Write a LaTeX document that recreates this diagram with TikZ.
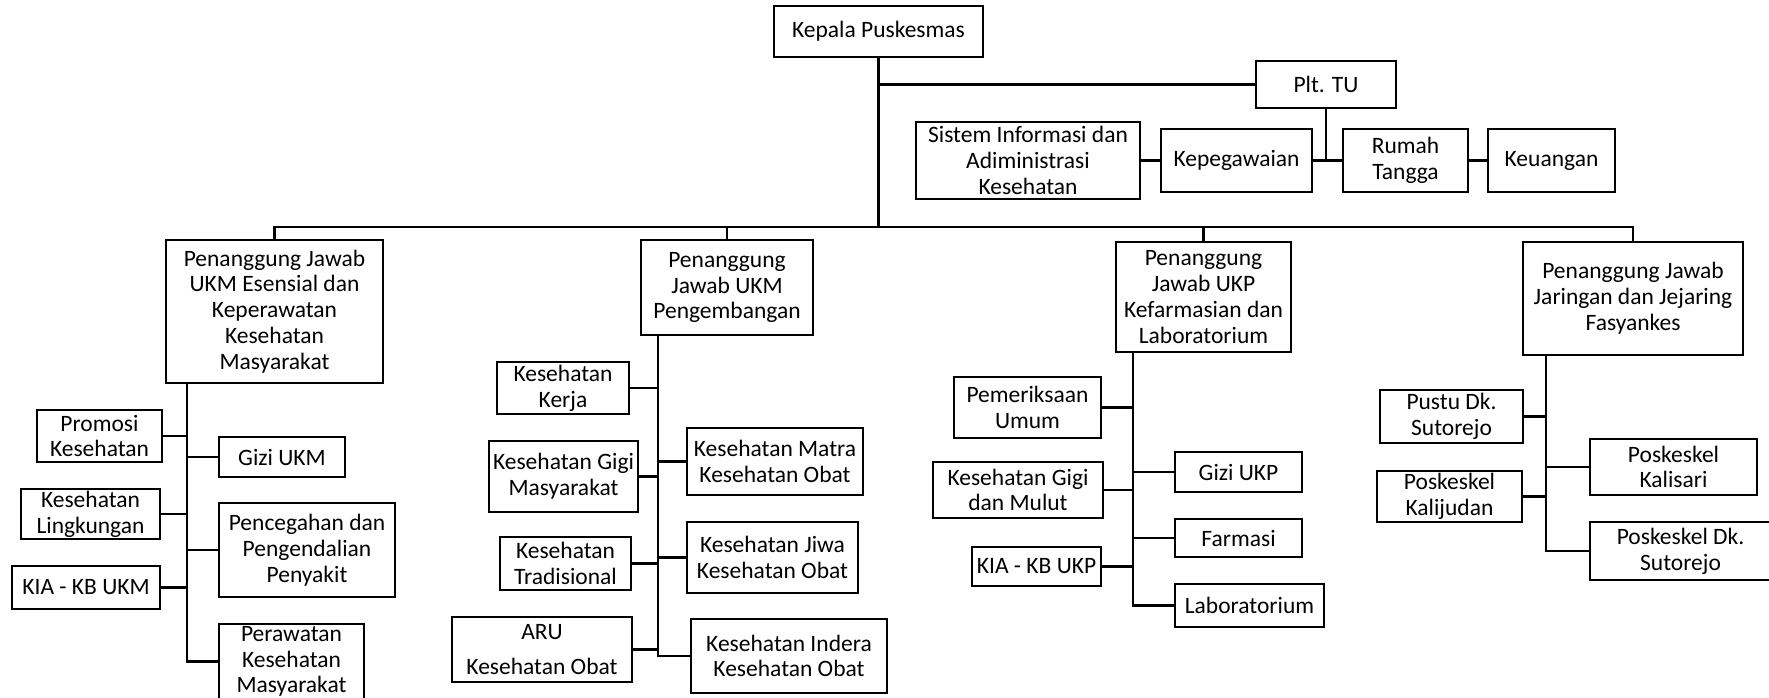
\documentclass[tikz,border=0pt]{standalone}
\usepackage{fontspec}
\setmainfont{Carlito}
\tikzset{
  box/.style={draw=black, line width=2.6pt, fill=white, align=center, inner sep=0pt,
    font=\fontsize{23.5}{25.8}\selectfont},
  conn/.style={draw=black, line width=2.4pt},
}
\newcommand{\bx}[6]{\node[box,minimum width={#4-#2},minimum height={#5-#3}] (#1) at ({(#2+#4)/2},{(#3+#5)/2}) {#6};}
\begin{document}
\begin{tikzpicture}[x=1pt,y=-1pt]
\useasboundingbox[fill=white] (0,0) rectangle (1769,697);
% top
\bx{kepala}{774}{6}{983}{57}{Kepala Puskesmas}
\bx{pltu}{1256}{61}{1396}{108}{Plt. TU}
\bx{sik}{916}{122}{1140}{199}{Sistem Informasi dan\\Adiministrasi\\Kesehatan}
\bx{kepeg}{1161}{129}{1312}{192}{Kepegawaian}
\bx{rt}{1343}{129}{1468}{192}{Rumah\\Tangga}
\bx{keu}{1488}{129}{1615}{192}{Keuangan}
% heads
\bx{h1}{166}{240}{383}{383}{Penanggung Jawab\\UKM Esensial dan\\Keperawatan\\Kesehatan\\Masyarakat}
\bx{h2}{641}{240}{813}{335}{Penanggung\\Jawab UKM\\Pengembangan}
\bx{h3}{1116}{242}{1291}{352}{Penanggung\\Jawab UKP\\Kefarmasian dan\\Laboratorium}
\bx{h4}{1523}{242}{1743}{355}{Penanggung Jawab\\Jaringan dan Jejaring\\Fasyankes}
% head 1 children
\bx{promosi}{37}{410}{162}{462}{Promosi\\Kesehatan}
\bx{gizi1}{219}{437}{345}{477}{Gizi UKM}
\bx{kesling}{21}{489}{160}{539}{Kesehatan\\Lingkungan}
\bx{ptp}{219}{503}{395}{597}{Pencegahan dan\\Pengendalian\\Penyakit}
\bx{kiaa}{12}{566}{160}{609}{KIA - KB UKM}
\bx{perawatan}{219}{624}{364}{699}{Perawatan\\Kesehatan\\Masyarakat}
% head 2 children
\bx{kerja}{497}{362}{629}{414}{Kesehatan\\Kerja}
\bx{gigim}{489}{441}{638}{512}{Kesehatan Gigi\\Masyarakat}
\bx{trad}{500}{537}{631}{590}{Kesehatan\\Tradisional}
\bx{aru}{452}{617}{632}{682}{ARU\\[10pt]Kesehatan Obat}
\bx{matra}{687}{428}{863}{495}{Kesehatan Matra\\Kesehatan Obat}
\bx{jiwa}{687}{522}{858}{593}{Kesehatan Jiwa\\Kesehatan Obat}
\bx{indera}{691}{619}{887}{693}{Kesehatan Indera\\Kesehatan Obat}
% head 3 children
\bx{periksa}{954}{377}{1101}{438}{Pemeriksaan\\Umum}
\bx{gigimulut}{933}{462}{1103}{518}{Kesehatan Gigi\\dan Mulut}
\bx{kiab}{972}{547}{1101}{586}{KIA - KB UKP}
\bx{gizi2}{1175}{452}{1302}{492}{Gizi UKP}
\bx{farmasi}{1175}{519}{1302}{557}{Farmasi}
\bx{lab}{1175}{584}{1324}{627}{Laboratorium}
% head 4 children
\bx{pustu}{1380}{390}{1523}{443}{Pustu Dk.\\Sutorejo}
\bx{kalijudan}{1377}{471}{1522}{522}{Poskeskel\\Kalijudan}
\bx{kalisari}{1590}{439}{1757}{495}{Poskeskel\\Kalisari}
\bx{dksut}{1590}{522}{1771}{580}{Poskeskel Dk.\\Sutorejo}
% coordinates
\coordinate (bus) at (879,227);
\coordinate (sa) at (187,0);
\coordinate (sb) at (658,0);
\coordinate (sc) at (1133,0);
\coordinate (sd) at (1546,0);
% top connectors
\begin{scope}[on background layer/.style={}]
\draw[conn] (kepala.south) -- (kepala.south |- bus);
\draw[conn] (pltu.west) -- (pltu.west -| kepala.south);
\draw[conn] (pltu.south) -- (pltu.south |- kepeg.east);
\draw[conn] (sik.east) -- (kepeg.west);
\draw[conn] (kepeg.east) -- (rt.west);
\draw[conn] (rt.east) -- (keu.west);
\draw[conn] (h1.north) |- (kepala.south |- bus) -| (h4.north);
\draw[conn] (h2.north) -- (h2.north |- bus);
\draw[conn] (h3.north) -- (h3.north |- bus);
% head 1
\draw[conn] (h1.south -| sa) -- (sa |- perawatan.west) -- (perawatan.west);
\draw[conn] (promosi.east) -- (promosi.east -| sa);
\draw[conn] (kesling.east) -- (kesling.east -| sa);
\draw[conn] (kiaa.east) -- (kiaa.east -| sa);
\draw[conn] (gizi1.west) -- (gizi1.west -| sa);
\draw[conn] (ptp.west) -- (ptp.west -| sa);
% head 2
\draw[conn] (h2.south -| sb) -- (sb |- indera.west) -- (indera.west);
\draw[conn] (kerja.east) -- (kerja.east -| sb);
\draw[conn] (gigim.east) -- (gigim.east -| sb);
\draw[conn] (trad.east) -- (trad.east -| sb);
\draw[conn] (aru.east) -- (aru.east -| sb);
\draw[conn] (matra.west) -- (matra.west -| sb);
\draw[conn] (jiwa.west) -- (jiwa.west -| sb);
% head 3
\draw[conn] (h3.south -| sc) -- (sc |- lab.west) -- (lab.west);
\draw[conn] (periksa.east) -- (periksa.east -| sc);
\draw[conn] (gigimulut.east) -- (gigimulut.east -| sc);
\draw[conn] (kiab.east) -- (kiab.east -| sc);
\draw[conn] (gizi2.west) -- (gizi2.west -| sc);
\draw[conn] (farmasi.west) -- (farmasi.west -| sc);
% head 4
\draw[conn] (h4.south -| sd) -- (sd |- dksut.west) -- (dksut.west);
\draw[conn] (pustu.east) -- (pustu.east -| sd);
\draw[conn] (kalijudan.east) -- (kalijudan.east -| sd);
\draw[conn] (kalisari.west) -- (kalisari.west -| sd);
\end{scope}
\end{tikzpicture}
\end{document}
